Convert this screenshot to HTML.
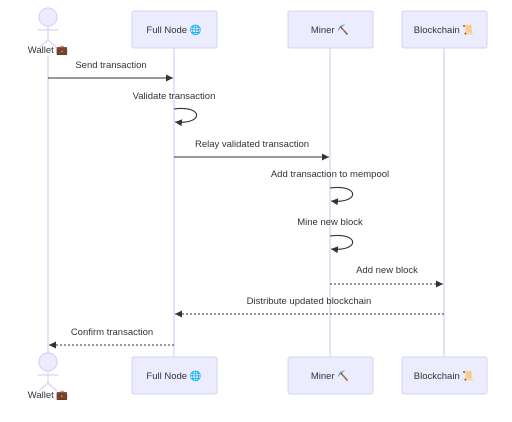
<!DOCTYPE html>
<html><head><meta charset="utf-8"><style>
html,body{margin:0;padding:0;background:#fff;width:512px;height:422px;overflow:hidden}
text{font-family:"Liberation Sans","DejaVu Sans",sans-serif;font-size:9.5px;fill:#333}
</style></head><body>
<svg width="512" height="422" viewBox="0 0 512 422" xmlns="http://www.w3.org/2000/svg">
<defs>
<marker id="a" markerWidth="8" markerHeight="8" refX="7" refY="4" orient="auto" markerUnits="userSpaceOnUse"><path d="M0,0.5 L7,4 L0,7.5z" fill="#333"/></marker>
</defs>
<g stroke="#d9d0f5" stroke-width="1.3">
<line x1="48" y1="56" x2="48" y2="355"/>
<line x1="174" y1="48" x2="174" y2="357"/>
<line x1="330" y1="48" x2="330" y2="357"/>
<line x1="444" y1="48" x2="444" y2="357"/>
</g>
<g fill="#ececff" stroke="#d9d0f5" stroke-width="1">
<rect x="132" y="11" width="85" height="37" rx="2"/>
<rect x="288" y="11" width="85" height="37" rx="2"/>
<rect x="402" y="11" width="85" height="37" rx="2"/>
<rect x="132" y="357" width="85" height="37" rx="2"/>
<rect x="288" y="357" width="85" height="37" rx="2"/>
<rect x="402" y="357" width="85" height="37" rx="2"/>
</g>
<g fill="#ececff" stroke="#d9d0f5" stroke-width="1.2">
<circle cx="48" cy="17" r="9"/>
<path d="M48,26 V40 M38,30 H58 M48,40 L39,48 M48,40 L57,48" fill="none"/>
<circle cx="48" cy="362" r="9"/>
<path d="M48,371 V383 M38,375 H58 M48,383 L39,391 M48,383 L57,391" fill="none"/>
</g>
<g text-anchor="middle">
<text x="48" y="53">Wallet 💼</text>
<text x="48" y="398">Wallet 💼</text>
<text x="174" y="33">Full Node 🌐</text>
<text x="330" y="33">Miner ⛏️</text>
<text x="444" y="33">Blockchain 📜</text>
<text x="174" y="379">Full Node 🌐</text>
<text x="330" y="379">Miner ⛏️</text>
<text x="444" y="379">Blockchain 📜</text>
<text x="111" y="68">Send transaction</text>
<text x="174" y="99">Validate transaction</text>
<text x="252" y="147">Relay validated transaction</text>
<text x="330" y="177">Add transaction to mempool</text>
<text x="330" y="225">Mine new block</text>
<text x="387" y="273">Add new block</text>
<text x="309" y="304">Distribute updated blockchain</text>
<text x="112" y="335">Confirm transaction</text>
</g>
<g stroke="#333" stroke-width="1.1" fill="none">
<line x1="48" y1="78" x2="173" y2="78" marker-end="url(#a)"/>
<path d="M174,109 C204,105 204,125 175,122" marker-end="url(#a)"/>
<line x1="174" y1="157" x2="329" y2="157" marker-end="url(#a)"/>
<path d="M330,188 C360,184 360,204 331,201" marker-end="url(#a)"/>
<path d="M330,236 C360,232 360,252 331,249" marker-end="url(#a)"/>
<line x1="330" y1="284" x2="443" y2="284" stroke-dasharray="2,2" marker-end="url(#a)"/>
<line x1="444" y1="314" x2="175" y2="314" stroke-dasharray="2,2" marker-end="url(#a)"/>
<line x1="174" y1="345" x2="49" y2="345" stroke-dasharray="2,2" marker-end="url(#a)"/>
</g>
</svg>
</body></html>
